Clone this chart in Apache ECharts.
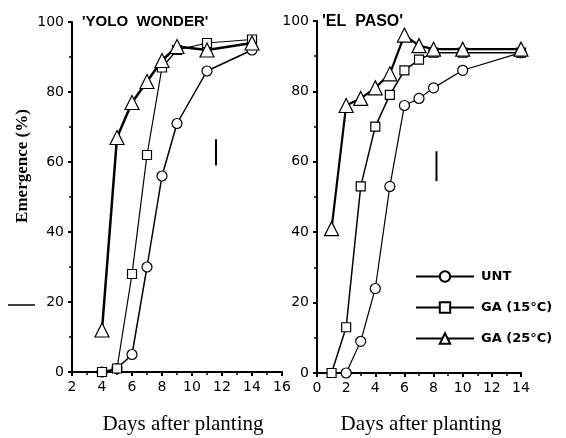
<!DOCTYPE html>
<html>
<head>
<meta charset="utf-8">
<script src="https://cdn.jsdelivr.net/npm/echarts@6/dist/echarts.min.js"></script>
<style>
  html, body { margin: 0; padding: 0; background: #fff; }
  #chart { width: 566px; height: 438px; }
</style>
</head>
<body>
<div id="chart"></div>
<script>
// 'YOLO WONDER' panel
const yoloDays = [4, 5, 6, 7, 8, 9, 11, 14];
const yoloUnt = [0, 1, 5, 30, 56, 71, 86, 92];
const yoloGa15 = [0, 1, 28, 62, 87, 92, 94, 95];
const yoloGa25 = [12, 67, 77, 83, 89, 93, 92, 94];
const yoloLsd = [[11.6, 59], [11.6, 66.5]];

// 'EL PASO' panel
const pasoDaysUnt = [2, 3, 4, 5, 6, 7, 8, 10, 14];
const pasoUnt = [0, 9, 24, 53, 76, 78, 81, 86, 91];
const pasoDaysGa = [1, 2, 3, 4, 5, 6, 7, 8, 10, 14];
const pasoGa15 = [0, 13, 53, 70, 79, 86, 89, 91, 91, 91];
const pasoGa25 = [41, 76, 78, 81, 85, 96, 93, 92, 92, 92];
const pasoLsd = [[8.2, 54.5], [8.2, 63]];

const seriesNames = ['UNT', 'GA (15°C)', 'GA (25°C)'];

const pairs = (xs, ys) => xs.map((x, i) => [x, ys[i]]);

const chart = echarts.init(document.getElementById('chart'));

const axisLabel = { color: '#000', fontFamily: 'DejaVu Sans', fontSize: 14 };
function xAxis(gridIndex, min, max) {
    return {
        type: 'value', gridIndex, min, max, interval: 2,
        axisLine: { onZero: false, lineStyle: { color: '#000', width: 2 } },
        axisTick: { length: 4, lineStyle: { color: '#000', width: 2 } },
        minorTick: { show: true, splitNumber: 2, length: 3, lineStyle: { color: '#000', width: 1.5 } },
        splitLine: { show: false },
        axisLabel: Object.assign({ margin: 8 }, axisLabel)
    };
}
function yAxis(gridIndex) {
    return {
        type: 'value', gridIndex, min: 0, max: 100, interval: 20,
        axisLine: { show: true, onZero: false, lineStyle: { color: '#000', width: 2 } },
        axisTick: { length: 4, lineStyle: { color: '#000', width: 2 } },
        minorTick: { show: true, splitNumber: 2, length: 3, lineStyle: { color: '#000', width: 1.5 } },
        splitLine: { show: false },
        axisLabel: Object.assign({ margin: 8 }, axisLabel)
    };
}
function line(name, idx, data, symbol, size, width) {
    return {
        name, type: 'line', xAxisIndex: idx, yAxisIndex: idx, data,
        symbol, symbolSize: size, showAllSymbol: true,
        lineStyle: { color: '#000', width },
        itemStyle: { color: '#fff', borderColor: '#000', borderWidth: 1.2 },
        emphasis: { disabled: true }
    };
}
function lsd(idx, data) {
    return {
        type: 'line', xAxisIndex: idx, yAxisIndex: idx, data,
        symbol: 'none', lineStyle: { color: '#000', width: 2 }, silent: true
    };
}

chart.setOption({
    animation: false,
    grid: [
        { left: 72, top: 22, width: 210, height: 350 },
        { left: 317, top: 21, width: 204, height: 352 }
    ],
    xAxis: [xAxis(0, 2, 16), xAxis(1, 0, 14)],
    yAxis: [yAxis(0), yAxis(1)],
    legend: {
        data: seriesNames,
        orient: 'vertical',
        left: 410, top: 265,
        itemWidth: 58, itemHeight: 13, itemGap: 18,
        textStyle: { color: '#000', fontFamily: 'DejaVu Sans', fontWeight: 'bold', fontSize: 13, padding: [0, 0, 0, 2] },
        selectedMode: false
    },
    series: [
        line('UNT', 0, pairs(yoloDays, yoloUnt), 'circle', 10, 1.5),
        line('GA (15°C)', 0, pairs(yoloDays, yoloGa15), 'rect', 9, 1.2),
        line('GA (25°C)', 0, pairs(yoloDays, yoloGa25), 'triangle', 14, 2.5),
        lsd(0, yoloLsd),
        line('UNT', 1, pairs(pasoDaysUnt, pasoUnt), 'circle', 10, 1.2),
        line('GA (15°C)', 1, pairs(pasoDaysGa, pasoGa15), 'rect', 9, 1.5),
        line('GA (25°C)', 1, pairs(pasoDaysGa, pasoGa25), 'triangle', 14, 2.2),
        lsd(1, pasoLsd)
    ],
    graphic: [
        { type: 'text', left: 82, top: 14, style: { text: "'YOLO  WONDER'", font: 'bold 15px "Liberation Sans"', fill: '#000' } },
        { type: 'text', left: 322, top: 14, style: { text: "'EL  PASO'", font: 'bold 16px "Liberation Sans"', fill: '#000' } },
        { type: 'text', x: 23, y: 166, rotation: Math.PI / 2, style: { text: 'Emergence (%)', font: 'bold 17px "Liberation Serif"', fill: '#000', align: 'center', verticalAlign: 'middle' } },
        { type: 'text', x: 183, y: 424, style: { text: 'Days after planting', font: '21px "Liberation Serif"', fill: '#000', align: 'center', verticalAlign: 'middle' } },
        { type: 'text', x: 421, y: 424, style: { text: 'Days after planting', font: '21px "Liberation Serif"', fill: '#000', align: 'center', verticalAlign: 'middle' } },
        { type: 'line', shape: { x1: 8, y1: 305, x2: 35, y2: 305 }, style: { stroke: '#000', lineWidth: 1.5 } }
    ]
});
</script>
</body>
</html>
